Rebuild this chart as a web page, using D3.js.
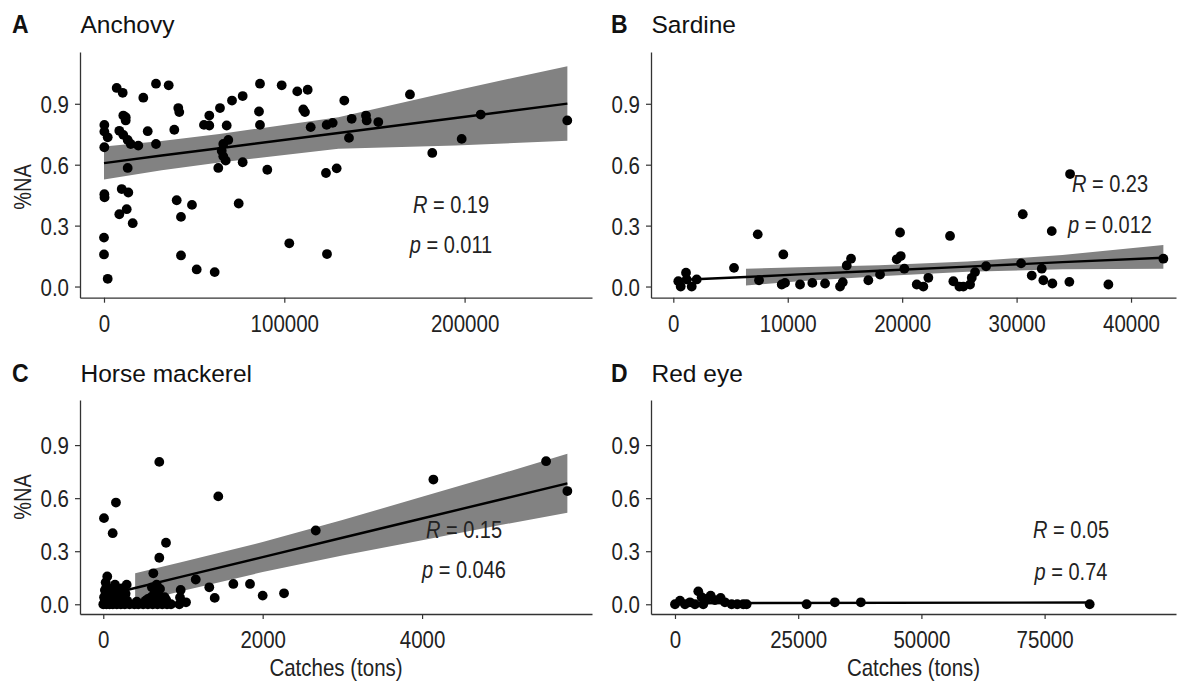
<!DOCTYPE html>
<html><head><meta charset="utf-8">
<script src="https://cdn.jsdelivr.net/npm/d3@7"></script>
<style>
body{margin:0;background:#fff}
text{font-family:Arial,"Liberation Sans",sans-serif}
</style>
</head><body>
<svg id="c" width="1180" height="684"></svg>
<script>
// ---------------- DATA ----------------
const yTicks = [0, 0.3, 0.6, 0.9];
const yLimits = [0, 1.1];

// Anchovy
const anchovyCatch = [7040,10370,21800,28840,35880,41210,41760,10700,12040,12040,200,200,2050,170,8490,10700,13140,14810,19020,24240,28840,38990,13140,200,300,9820,13480,8490,12590,15920,0,0,2050,40320,42700,48800,42700,51410,61390,55460,58400,58400,64330,68050,70990,76920,86520,98550,107200,112970,85960,86520,110530,111470,114640,123500,126840,66160,68940,65280,66160,67490,63390,76920,90570,74700,102770,123120,129050,123680,133270,169700,137370,145300,145690,152130,135880,182070,198380,208920,256950];
const anchovyNA = [0.978,0.954,0.930,0.999,0.991,0.879,0.859,0.842,0.834,0.818,0.796,0.763,0.735,0.686,0.767,0.747,0.722,0.702,0.694,0.765,0.702,0.772,0.584,0.455,0.439,0.480,0.463,0.356,0.381,0.312,0.241,0.158,0.038,0.425,0.343,0.402,0.153,0.084,0.071,0.796,0.842,0.793,0.879,0.793,0.916,0.938,0.999,0.991,0.961,0.969,0.862,0.796,0.872,0.859,0.785,0.796,0.806,0.702,0.722,0.669,0.641,0.620,0.584,0.612,0.575,0.409,0.213,0.559,0.582,0.160,0.916,0.946,0.826,0.842,0.818,0.810,0.732,0.658,0.727,0.847,0.818];
const anchovyFitX = [0, 32000, 64000, 130000, 195000, 257000];
const anchovyFit  = [0.608, 0.645, 0.681, 0.756, 0.830, 0.901];
const anchovyLo   = [0.527, 0.573, 0.611, 0.678, 0.694, 0.718];
const anchovyHi   = [0.690, 0.717, 0.751, 0.834, 0.966, 1.085];
const anchovyTicks = [0, 100000, 200000];

// Sardine
const sardineCatch = [437,647,1110,1171,1608,2045,5305,7377,7490,9614,9474,9763,11074,12149,13259,14570,14806,15155,15531,17043,18066,19814,19875,19526,20190,21273,21850,22287,24184,24472,24997,25346,25932,26080,26369,27330,30538,30389,31324,32198,32338,33125,33072,34672,34611,38020,42826];
const sardineNA = [0.026,0.000,0.068,0.035,0.000,0.035,0.092,0.257,0.031,0.158,0.010,0.018,0.010,0.018,0.015,0.000,0.021,0.104,0.137,0.031,0.059,0.266,0.150,0.134,0.088,0.010,0.000,0.043,0.249,0.026,0.000,0.000,0.010,0.043,0.071,0.100,0.356,0.114,0.054,0.088,0.031,0.015,0.273,0.554,0.023,0.010,0.137];
const sardineFitX = [437, 6350, 11000, 18000, 25700, 34000, 42826];
const sardineFit  = [0.032, 0.047, 0.060, 0.078, 0.098, 0.120, 0.142];
const sardineLo   = [-0.014, 0.005, 0.026, 0.051, 0.073, 0.085, 0.088];
const sardineHi   = [0.078, 0.088, 0.095, 0.105, 0.123, 0.155, 0.204];
const sardineTicks = [0, 10000, 20000, 30000, 40000];

// Horse mackerel
const horseCatch = [703,1443,159,9,118,787,703,628,1160,1330,1398,1632,1841,2000,971,963,954,1038,2666,4142,5556,5823,2268,
  0,40,80,120,170,220,270,330,390,440,500,560,620,680,740,800,850,
  20,110,200,300,420,530,640,720,790,
  10,70,150,250,600,690,770,
  30,100,190,280,640,560,
  20,120,230,610,712,
  40,147,294,670,30,50];
const horseNA = [0.805,0.610,0.575,0.487,0.402,0.348,0.263,0.175,0.140,0.096,0.036,0.115,0.115,0.049,0.081,0.039,0.000,0.011,0.417,0.705,0.809,0.640,0.062,
  0,0,0,0,0,0,0,0,0,0,0,0,0,0,0,0,0,
  0.020,0.020,0.020,0.020,0.015,0.020,0.020,0.020,0.025,
  0.040,0.040,0.045,0.040,0.040,0.045,0.040,
  0.060,0.065,0.060,0.060,0.060,0.030,
  0.080,0.085,0.090,0.096,0.087,
  0.100,0.111,0.111,0.111,0.124,0.157];
const horseFitX = [0, 400, 1000, 2000, 3000, 4000, 5000, 5823];
const horseFit  = [0.049, 0.092, 0.158, 0.267, 0.376, 0.485, 0.594, 0.684];
const horseLo   = [-0.036, 0.008, 0.076, 0.182, 0.276, 0.362, 0.449, 0.517];
const horseHi   = [0.134, 0.176, 0.240, 0.352, 0.476, 0.608, 0.739, 0.851];
const horseTicks = [0, 2000, 4000];

// Red eye
const redeyeCatch = [0,1014,2028,3041,4055,4724,5414,5738,6428,7239,8110,9266,10138,11497,12632,13849,14538,26704,32441,37713,84145];
const redeyeNA = [0.000,0.020,0.000,0.011,0.000,0.073,0.040,0.000,0.030,0.049,0.024,0.036,0.011,0.000,0.000,0.000,0.000,0.000,0.011,0.011,0.000];
const redeyeFitX = [0, 84145];
const redeyeFit  = [0.006, 0.010];
const redeyeLo   = [-0.030, -0.040];
const redeyeHi   = [0.042, 0.060];
const redeyeTicks = [0, 25000, 50000, 75000];

const titles = ["Anchovy", "Sardine", "Horse mackerel", "Red eye"];
const letters = ["A", "B", "C", "D"];
const rLabels = ["0.19", "0.23", "0.15", "0.05"];
const pLabels = ["0.011", "0.012", "0.046", "0.74"];

// ---------------- LAYOUT ----------------
const svg = d3.select("#c");
const panels = [
  {xs: anchovyCatch, ys: anchovyNA, fx: anchovyFitX, f: anchovyFit, lo: anchovyLo, hi: anchovyHi, ticks: anchovyTicks,
   left: 80, right: 592, top: 52, bottom: 297.7, xdom: [-13310, 270660], ann: [451, 213, 253], ylab: [31, 187], xlab: null},
  {xs: sardineCatch, ys: sardineNA, fx: sardineFitX, f: sardineFit, lo: sardineLo, hi: sardineHi, ticks: sardineTicks,
   left: 651, right: 1176, top: 52, bottom: 297.7, xdom: [-1950, 43930], ann: [1110, 192, 233], ylab: null, xlab: null},
  {xs: horseCatch, ys: horseNA, fx: horseFitX, f: horseFit, lo: horseLo, hi: horseHi, ticks: horseTicks,
   left: 80, right: 592, top: 400, bottom: 614, xdom: [-292, 6132], ann: [464, 538, 578], ylab: [31, 497], xlab: 676},
  {xs: redeyeCatch, ys: redeyeNA, fx: redeyeFitX, f: redeyeFit, lo: redeyeLo, hi: redeyeHi, ticks: redeyeTicks,
   left: 651, right: 1176, top: 400, bottom: 614, xdom: [-4866, 101660], ann: [1071, 538, 580], ylab: null, xlab: 676}
];
const ySpan = yLimits[1] - yLimits[0];
const yDom = [yLimits[0] - 0.05 * ySpan, yLimits[1] + 0.05 * ySpan];
const SY = 1.18;

panels.forEach((p, i) => {
  const g = svg.append("g");
  const x = d3.scaleLinear().domain(p.xdom).range([p.left, p.right]);
  const y = d3.scaleLinear().domain(yDom).range([p.bottom, p.top]);
  const sm = p.fx.map((v, k) => ({x: v, f: p.f[k], lo: p.lo[k], hi: p.hi[k]}));

  // confidence band (dropped where outside y limits, as ggplot does)
  g.append("path").datum(sm)
    .attr("d", d3.area().defined(d => d.lo >= yLimits[0] && d.hi <= yLimits[1])
      .x(d => x(d.x)).y0(d => y(d.lo)).y1(d => y(d.hi)))
    .attr("fill", "#828282");

  // points
  g.selectAll("circle").data(p.xs.map((v, k) => [v, p.ys[k]])).join("circle")
    .attr("cx", d => x(d[0])).attr("cy", d => y(d[1])).attr("r", 4.9).attr("fill", "#000");

  // fit line
  g.append("path").datum(sm)
    .attr("d", d3.line().x(d => x(d.x)).y(d => y(d.f)))
    .attr("fill", "none").attr("stroke", "#000").attr("stroke-width", 2.4);

  // axes
  const xa = g.append("g").attr("transform", `translate(0,${p.bottom})`)
    .call(d3.axisBottom(x).tickValues(p.ticks).tickFormat(d3.format("d")).tickSize(5).tickSizeOuter(0));
  const ya = g.append("g").attr("transform", `translate(${p.left},0)`)
    .call(d3.axisLeft(y).tickValues(yTicks).tickFormat(d3.format(".1f")).tickSize(5).tickSizeOuter(0));
  [xa, ya].forEach(a => {
    a.select(".domain").attr("stroke", "#333").attr("stroke-width", 1.3);
    a.selectAll(".tick line").attr("stroke", "#333").attr("stroke-width", 1.2);
    a.selectAll("text").attr("font-size", "20.5px").attr("fill", "#222")
      .attr("font-family", "Arial, 'Liberation Sans', sans-serif");
  });
  xa.selectAll("text").attr("y", 0).attr("dy", null).attr("transform", `translate(0,34) scale(1,${SY})`);
  ya.selectAll("text").attr("x", 0).attr("dy", null).attr("transform", `translate(-11,8.5) scale(1,${SY})`);

  // panel letter and title
  const ty = i < 2 ? 33 : 381.5;
  const lx = i % 2 === 0 ? 12 : 611;
  svg.append("text").attr("transform", `translate(${lx},${ty}) scale(1,1.15)`)
    .attr("font-size", "23px").attr("font-weight", "bold").attr("fill", "#111").text(letters[i]);
  svg.append("text").attr("x", p.left + 0.5).attr("y", ty)
    .attr("font-size", "24.5px").attr("fill", "#111").text(titles[i]);

  // correlation annotation
  const t1 = svg.append("text").attr("transform", `translate(${p.ann[0]},${p.ann[1]}) scale(1,${SY})`)
    .attr("font-size", "20px").attr("fill", "#222").attr("text-anchor", "middle");
  t1.append("tspan").attr("font-style", "italic").text("R");
  t1.append("tspan").text(" = " + rLabels[i]);
  const t2 = svg.append("text").attr("transform", `translate(${p.ann[0]},${p.ann[2]}) scale(1,${SY})`)
    .attr("font-size", "20px").attr("fill", "#222").attr("text-anchor", "middle");
  t2.append("tspan").attr("font-style", "italic").text("p");
  t2.append("tspan").text(" = " + pLabels[i]);

  // axis titles
  if (p.ylab) {
    svg.append("text").attr("transform", `translate(${p.ylab[0]},${p.ylab[1]}) rotate(-90) scale(1,${SY})`)
      .attr("font-size", "20px").attr("fill", "#222").attr("text-anchor", "middle").text("%NA");
  }
  if (p.xlab) {
    svg.append("text").attr("transform", `translate(${(p.left + p.right) / 2},${p.xlab}) scale(1,${SY})`)
      .attr("font-size", "20.5px").attr("fill", "#222").attr("text-anchor", "middle").text("Catches (tons)");
  }
});
</script>
</body></html>
